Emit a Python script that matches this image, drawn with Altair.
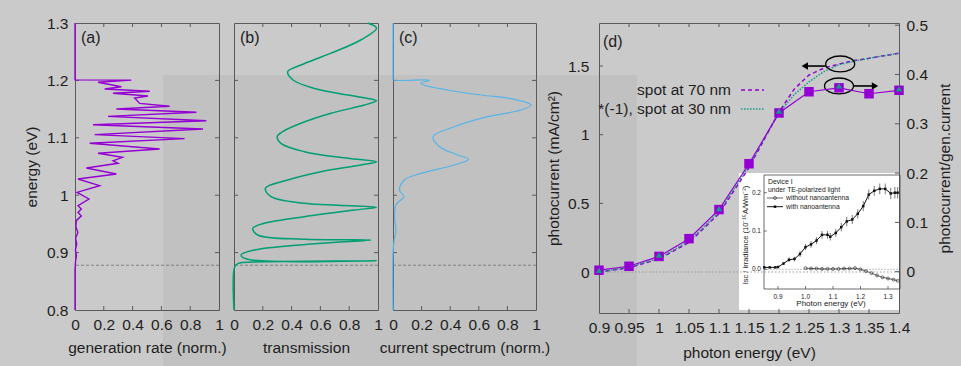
import altair as alt
import pandas as pd

# ---------------- data ----------------
energy_ticks = [0.8, 0.9, 1.0, 1.1, 1.2, 1.3]
norm_ticks = [0, 0.2, 0.4, 0.6, 0.8, 1]
gap_energy = [0.878]

# (a) generation rate (norm.) vs energy (eV)
gen_E = [0.800, 0.870, 0.885, 0.895, 0.905, 0.915, 0.925, 0.935, 0.945, 0.9556, 0.964, 0.970, 0.976,
         0.9817, 0.9934, 1.005, 1.0166, 1.0282, 1.037, 1.0474, 1.0556, 1.060, 1.066, 1.073, 1.0805,
         1.0904, 1.0985, 1.1055, 1.1153, 1.1228, 1.1298, 1.1374, 1.1444, 1.1502, 1.1549, 1.160,
         1.1693, 1.1728, 1.1775, 1.181, 1.185, 1.189, 1.1967, 1.2005, 1.2009, 1.300]
gen_v = [0.000, 0.000, 0.004, 0.010, 0.003, 0.012, 0.004, 0.020, 0.006, 0.009, 0.044, 0.021, 0.044,
         0.021, 0.097, 0.014, 0.171, 0.021, 0.287, 0.079, 0.299, 0.264, 0.329, 0.160, 0.588,
         0.102, 0.761, 0.137, 0.889, 0.125, 0.912, 0.229, 0.843, 0.287, 0.657, 0.449,
         0.414, 0.507, 0.264, 0.519, 0.206, 0.322, 0.160, 0.391, 0.000, 0.000]

# (b) transmission
tr_E = [0.800, 0.8754, 0.8813, 0.8836, 0.8859, 0.8883, 0.8958, 0.9045, 0.9162, 0.922, 0.9232, 0.9307,
        0.9423, 0.951, 0.9626, 0.9742, 0.9789, 0.9859, 0.9974, 1.012, 1.0265, 1.041, 1.0526, 1.0584,
        1.0643, 1.0758, 1.0904, 1.102, 1.1107, 1.1253, 1.1427, 1.157, 1.1646, 1.167, 1.1746, 1.186,
        1.2007, 1.2152, 1.2268, 1.247, 1.2704, 1.2908, 1.300]
tr_v = [0.000, 0.005, 0.030, 0.141, 0.990, 0.095, 0.049, 0.141, 0.604, 0.950, 0.488, 0.165,
        0.130, 0.210, 0.488, 0.835, 0.990, 0.488, 0.257, 0.218, 0.373, 0.604, 0.880, 0.990,
        0.790, 0.488, 0.326, 0.300, 0.338, 0.465, 0.674, 0.905, 0.990, 0.963, 0.790, 0.558,
        0.410, 0.373, 0.465, 0.670, 0.880, 0.990, 0.928]

# (c) current spectrum (norm.)
cs_E = [0.800, 0.899, 0.922, 0.939, 0.957, 0.983, 0.9974, 1.009, 1.0265, 1.038, 1.0526, 1.0625, 1.070,
        1.0845, 1.102, 1.1193, 1.1368, 1.1484, 1.157, 1.167, 1.1746, 1.1833, 1.1915, 1.195, 1.2003,
        1.2009, 1.2035, 1.250, 1.300]
cs_v = [0.000, 0.000, 0.008, 0.020, 0.012, 0.020, 0.075, 0.045, 0.080, 0.196, 0.429, 0.529, 0.454,
        0.326, 0.280, 0.429, 0.662, 0.895, 0.965, 0.848, 0.615, 0.382, 0.220, 0.196, 0.254,
        0.000, 0.000, 0.000, 0.000]

# (d) photocurrent vs photon energy
d_x_ticks = [0.9, 0.95, 1.0, 1.05, 1.1, 1.15, 1.2, 1.25, 1.3, 1.35, 1.4]
d_left_ticks = [0, 0.5, 1, 1.5]
d_right_ticks = [0, 0.1, 0.2, 0.3, 0.4, 0.5]

sq_E = [0.9, 0.95, 1.0, 1.05, 1.1, 1.15, 1.2, 1.25, 1.3, 1.35, 1.4]
sq_v = [0.003, 0.011, 0.031, 0.067, 0.126, 0.219, 0.322, 0.365, 0.373, 0.361, 0.368]
tri_E = [0.9, 1.0, 1.1, 1.2, 1.3, 1.4]
tri_v = [0.003, 0.034, 0.128, 0.326, 0.377, 0.371]

spot_E = [0.9, 0.95, 1.0, 1.05, 1.1, 1.15, 1.2, 1.225, 1.25, 1.275, 1.3, 1.325, 1.35, 1.375, 1.4]
spot70 = [0.0, 0.03, 0.095, 0.215, 0.425, 0.76, 1.165, 1.33, 1.435, 1.485, 1.515, 1.54, 1.556, 1.575, 1.593]
spot30 = [0.0, 0.035, 0.10, 0.225, 0.435, 0.775, 1.16, 1.29, 1.385, 1.46, 1.51, 1.535, 1.556, 1.575, 1.593]

ellipse_E = [1.302, 1.300]
ellipse_y = [1.515, 1.355]
arrowL = {"a": [1.278], "b": [1.243], "y": [1.50]}
arrowR = {"a": [1.325], "b": [1.360], "y": [1.355]}

# inset (Device I)
in_x_ticks = [0.9, 1.0, 1.1, 1.2, 1.3]
in_y_ticks = [0.0, 0.1, 0.2]
in_with_E = [0.85, 0.87, 0.89, 0.90, 0.92, 0.94, 0.96, 0.98, 1.00, 1.02, 1.04, 1.06, 1.08, 1.09, 1.11,
             1.13, 1.15, 1.17, 1.19, 1.21, 1.23, 1.25, 1.27, 1.29, 1.31, 1.325, 1.335]
in_with_v = [0.005, 0.005, 0.005, 0.006, 0.015, 0.025, 0.027, 0.040, 0.058, 0.065, 0.075, 0.090, 0.090,
             0.085, 0.095, 0.110, 0.125, 0.130, 0.145, 0.165, 0.195, 0.205, 0.210, 0.210, 0.198, 0.200, 0.200]
in_with_err = [0.002, 0.002, 0.002, 0.002, 0.004, 0.006, 0.006, 0.008, 0.008, 0.009, 0.009, 0.010, 0.010,
               0.010, 0.010, 0.011, 0.012, 0.012, 0.012, 0.013, 0.013, 0.013, 0.014, 0.014, 0.015, 0.015, 0.015]
in_wo_E = [1.00, 1.02, 1.04, 1.06, 1.08, 1.10, 1.12, 1.14, 1.16, 1.18, 1.20, 1.22, 1.24, 1.26, 1.28,
           1.30, 1.32, 1.335]
in_wo_v = [0.003, 0.002, 0.002, 0.001, 0.001, 0.001, 0.001, 0.002, 0.002, 0.003, 0.000, -0.005, -0.010,
           -0.016, -0.021, -0.024, -0.027, -0.030]
in_zero = {"a": [0.85], "b": [1.34], "z": [0.0]}

# ---------------- style ----------------
FONT = "Liberation Sans"
INK = "#1e1e1e"
BG = "#cacaca"
FRAME = "#5a5a5a"
PURPLE = "#9400d3"
GREEN = "#009e73"
TEAL = "#139a86"
BLUE = "#56b4e9"
FS = 15.5
TL = 4  # inward tick length


def line_df(E, v):
    return pd.DataFrame({"E": E, "v": v, "i": list(range(len(E)))})


def label(text, x, y, size=FS, align="left", angle=0, color=INK, baseline="middle"):
    return alt.Chart(pd.DataFrame({"t": [text]})).mark_text(
        font=FONT, fontSize=size, color=color, align=align, baseline=baseline, angle=angle
    ).encode(text="t:N", x=alt.value(x), y=alt.value(y))


def x_ticks(values, scale, axis, h):
    df = pd.DataFrame({"t": values})
    out = []
    for y0, y1 in ((h, h - TL), (0, TL)):
        out.append(alt.Chart(df).mark_rule(color=FRAME, strokeWidth=1).encode(
            x=alt.X("t:Q", scale=scale, axis=axis), y=alt.value(y0), y2=alt.value(y1)))
    return out


def y_ticks(values, scale, axis, w, sides=("left", "right")):
    df = pd.DataFrame({"t": values})
    out = []
    for s in sides:
        x0, x1 = (0, TL) if s == "left" else (w - TL, w)
        out.append(alt.Chart(df).mark_rule(color=FRAME, strokeWidth=1).encode(
            y=alt.Y("t:Q", scale=scale, axis=axis), x=alt.value(x0), x2=alt.value(x1)))
    return out


xs_norm = alt.Scale(domain=[0, 1], nice=False, zero=False)
ys_E = alt.Scale(domain=[0.8, 1.3], nice=False, zero=False)


def side_panel(E, v, color, xtitle, tag, show_y, interp, sw, width, shade=False):
    h = 287
    x_axis = alt.Axis(values=norm_ticks, format=".1~f", title=xtitle)
    y_axis = alt.Axis(values=energy_ticks, format=".1~f", title="energy (eV)", titlePadding=7) if show_y else None
    line = alt.Chart(line_df(E, v)).mark_line(color=color, strokeWidth=sw, interpolate=interp).encode(
        x=alt.X("v:Q", scale=xs_norm, axis=x_axis),
        y=alt.Y("E:Q", scale=ys_E, axis=y_axis),
        order=alt.Order("i:Q"),
    )
    gap = alt.Chart(pd.DataFrame({"E": gap_energy})).mark_rule(
        color="#707070", strokeDash=[3, 2], strokeWidth=0.8
    ).encode(y=alt.Y("E:Q", scale=ys_E, axis=y_axis))
    layers = (x_ticks(norm_ticks[1:-1], xs_norm, x_axis, h)
              + y_ticks(energy_ticks[1:-1], ys_E, y_axis, width)
              + [gap, line, label(tag, 6, 15, size=16)])
    if shade:
        sh = alt.Chart(pd.DataFrame({"k": [0]})).mark_rect(color="#000000", opacity=0.045).encode(
            x=alt.value(88), x2=alt.value(562), y=alt.value(52), y2=alt.value(343)
        )
        layers = [sh] + layers
    return alt.layer(*layers).properties(width=width, height=h)


pa = side_panel(gen_E, gen_v, PURPLE, "generation rate (norm.)", "(a)", True, "linear", 1.4, 144, shade=True)
pb = side_panel(tr_E, tr_v, GREEN, "transmission", "(b)", False, "catmull-rom", 1.5, 144)
pc = side_panel(cs_E, cs_v, BLUE, "current spectrum (norm.)", "(c)", False, "catmull-rom", 1.2, 143)

# invisible spacer between (c) and (d)
spacer = alt.Chart(pd.DataFrame({"k": [0]})).mark_point(opacity=0).encode(
    x=alt.value(0), y=alt.value(0)
).properties(width=33, height=287, view=alt.ViewBackground(strokeOpacity=0))

# ---------------- panel (d) ----------------
DW, DH = 300, 290
xE = alt.Scale(domain=[0.9, 1.4], nice=False, zero=False)
yL = alt.Scale(domain=[-0.2986, 1.8135], nice=False, zero=False)
yR = alt.Scale(domain=[-0.0838, 0.5045], nice=False, zero=False)
x_axis_d = alt.Axis(values=d_x_ticks, format=".2~f", title="photon energy (eV)", titlePadding=10)
yL_axis = alt.Axis(values=d_left_ticks, format=".1~f", title="photocurrent (mA/cm²)",
                   orient="left", labelPadding=10, titlePadding=6)
yR_axis = alt.Axis(values=d_right_ticks, format=".1~f", title="photocurrent/gen.current",
                   orient="right", titleAngle=270, titleBaseline="top", titlePadding=10)

# inset scales (pixel ranges inside panel d)
inX = alt.Scale(domain=[0.9, 1.3], range=[179, 289], nice=False, zero=False)
inY = alt.Scale(domain=[0.0, 0.2], range=[246.3, 169.7], nice=False, zero=False)

inset_bg = alt.Chart(pd.DataFrame({"k": [0]})).mark_rect(fill="#ffffff").encode(
    x=alt.value(140), x2=alt.value(300), y=alt.value(150), y2=alt.value(287))
inset_frame = alt.Chart(pd.DataFrame({"k": [0]})).mark_rect(
    fillOpacity=0, stroke="#444444", strokeWidth=0.8).encode(
    x=alt.value(165), x2=alt.value(301), y=alt.value(152), y2=alt.value(266))
inset_zero = alt.Chart(pd.DataFrame(in_zero)).mark_rule(color="#888888", strokeDash=[1.5, 1.5], strokeWidth=0.7).encode(
    x=alt.X("a:Q", scale=inX, axis=None), x2="b:Q", y=alt.Y("z:Q", scale=inY, axis=None))
inset_xt = alt.Chart(pd.DataFrame({"t": in_x_ticks})).mark_rule(color="#444444", strokeWidth=0.7).encode(
    x=alt.X("t:Q", scale=inX, axis=None), y=alt.value(266), y2=alt.value(263))
inset_yt = alt.Chart(pd.DataFrame({"t": in_y_ticks})).mark_rule(color="#444444", strokeWidth=0.7).encode(
    y=alt.Y("t:Q", scale=inY, axis=None), x=alt.value(165), x2=alt.value(168))
wdf = pd.DataFrame({"E": in_with_E, "v": in_with_v, "e": in_with_err})
inset_err = alt.Chart(wdf).transform_calculate(lo="datum.v - datum.e", hi="datum.v + datum.e").mark_rule(
    color="#222222", strokeWidth=0.6).encode(
    x=alt.X("E:Q", scale=inX, axis=None), y=alt.Y("lo:Q", scale=inY, axis=None), y2="hi:Q")
inset_with_line = alt.Chart(wdf).mark_line(color="#111111", strokeWidth=1).encode(
    x=alt.X("E:Q", scale=inX, axis=None), y=alt.Y("v:Q", scale=inY, axis=None))
inset_with_pts = alt.Chart(wdf).mark_point(shape="square", filled=True, size=6, color="#111111", opacity=1).encode(
    x=alt.X("E:Q", scale=inX, axis=None), y=alt.Y("v:Q", scale=inY, axis=None))
wodf = pd.DataFrame({"E": in_wo_E, "v": in_wo_v})
inset_wo_line = alt.Chart(wodf).mark_line(color="#222222", strokeWidth=0.7).encode(
    x=alt.X("E:Q", scale=inX, axis=None), y=alt.Y("v:Q", scale=inY, axis=None))
inset_wo_pts = alt.Chart(wodf).mark_point(shape="circle", filled=False, size=9, color="#222222",
                                          strokeWidth=0.6, opacity=1).encode(
    x=alt.X("E:Q", scale=inX, axis=None), y=alt.Y("v:Q", scale=inY, axis=None))
inset_xlab = alt.Chart(pd.DataFrame({"t": in_x_ticks})).mark_text(
    font=FONT, fontSize=6.5, color="#222222", baseline="middle").encode(
    x=alt.X("t:Q", scale=inX, axis=None), y=alt.value(274), text=alt.Text("t:Q", format=".1f"))
inset_ylab = alt.Chart(pd.DataFrame({"t": in_y_ticks})).mark_text(
    font=FONT, fontSize=6.5, color="#222222", align="right", baseline="middle").encode(
    y=alt.Y("t:Q", scale=inY, axis=None), x=alt.value(162), text=alt.Text("t:Q", format=".1f"))
leg_wo_line = alt.Chart(pd.DataFrame({"k": [0]})).mark_rule(color="#222222", strokeWidth=0.7).encode(
    x=alt.value(168), x2=alt.value(184), y=alt.value(175))
leg_wo_pt = alt.Chart(pd.DataFrame({"k": [0]})).mark_point(
    shape="circle", filled=False, size=9, color="#222222", strokeWidth=0.6, opacity=1).encode(
    x=alt.value(176), y=alt.value(175))
leg_w_line = alt.Chart(pd.DataFrame({"k": [0]})).mark_rule(color="#111111", strokeWidth=1).encode(
    x=alt.value(168), x2=alt.value(184), y=alt.value(183.7))
leg_w_pt = alt.Chart(pd.DataFrame({"k": [0]})).mark_point(
    shape="square", filled=True, size=6, color="#111111", opacity=1).encode(
    x=alt.value(176), y=alt.value(183.7))

inset = alt.layer(
    inset_bg, inset_frame, inset_zero, inset_xt, inset_yt, inset_err, inset_with_line, inset_with_pts,
    inset_wo_line, inset_wo_pts, inset_xlab, inset_ylab,
    label("Photon energy (eV)", 232, 281, size=8, align="center", color="#222222"),
    label("Isc / irradiance (10⁻¹⁵A/Wm⁻²)", 147, 212, size=7.5, align="center", angle=270, color="#222222"),
    label("Device I", 169, 158.7, size=6.8, color="#222222"),
    label("under TE-polarized light", 169, 167, size=6.8, color="#222222"),
    label("without nanoantenna", 187, 175, size=6.8, color="#222222"),
    label("with nanoantenna", 187, 183.7, size=6.8, color="#222222"),
    leg_wo_line, leg_wo_pt, leg_w_line, leg_w_pt,
)

# left-axis layer: dashed spectra, zero line, legend, annotations
zero_line = alt.Chart(pd.DataFrame({"z": [0.0]})).mark_rule(
    color="#9a9a9a", strokeDash=[1.5, 2], strokeWidth=1).encode(
    y=alt.Y("z:Q", scale=yL, axis=yL_axis))
sdf = pd.DataFrame({"E": spot_E, "s70": spot70, "s30": spot30})
s70 = alt.Chart(sdf).mark_line(color=PURPLE, strokeDash=[4, 3], strokeWidth=1.5).encode(
    x=alt.X("E:Q", scale=xE, axis=x_axis_d), y=alt.Y("s70:Q", scale=yL, axis=yL_axis))
s30 = alt.Chart(sdf).mark_line(color=TEAL, strokeDash=[1.5, 1.5], strokeWidth=1.5).encode(
    x=alt.X("E:Q", scale=xE, axis=x_axis_d), y=alt.Y("s30:Q", scale=yL, axis=yL_axis))
ell = alt.Chart(pd.DataFrame({"E": ellipse_E, "y": ellipse_y})).mark_point(
    shape="M-1,0A1,0.55,0,1,1,1,0A1,0.55,0,1,1,-1,0Z", size=841, filled=False,
    color="#000000", strokeWidth=1.3, opacity=1).encode(
    x=alt.X("E:Q", scale=xE, axis=x_axis_d), y=alt.Y("y:Q", scale=yL, axis=yL_axis))
arrL = alt.Chart(pd.DataFrame(arrowL)).mark_rule(color="#000000", strokeWidth=1.6).encode(
    x=alt.X("a:Q", scale=xE, axis=x_axis_d), x2="b:Q", y=alt.Y("y:Q", scale=yL, axis=yL_axis))
arrLh = alt.Chart(pd.DataFrame(arrowL)).mark_point(shape="triangle-left", filled=True, size=55,
                                                   color="#000000", opacity=1).encode(
    x=alt.X("b:Q", scale=xE, axis=x_axis_d), y=alt.Y("y:Q", scale=yL, axis=yL_axis))
arrR = alt.Chart(pd.DataFrame(arrowR)).mark_rule(color="#000000", strokeWidth=1.6).encode(
    x=alt.X("a:Q", scale=xE, axis=x_axis_d), x2="b:Q", y=alt.Y("y:Q", scale=yL, axis=yL_axis))
arrRh = alt.Chart(pd.DataFrame(arrowR)).mark_point(shape="triangle-right", filled=True, size=55,
                                                   color="#000000", opacity=1).encode(
    x=alt.X("b:Q", scale=xE, axis=x_axis_d), y=alt.Y("y:Q", scale=yL, axis=yL_axis))
leg70 = alt.Chart(pd.DataFrame({"k": [0]})).mark_rule(color=PURPLE, strokeDash=[4, 3], strokeWidth=1.5).encode(
    x=alt.value(142), x2=alt.value(165), y=alt.value(67))
leg30 = alt.Chart(pd.DataFrame({"k": [0]})).mark_rule(color=TEAL, strokeDash=[1.5, 1.5], strokeWidth=1.5).encode(
    x=alt.value(142), x2=alt.value(165), y=alt.value(86))

left_layer = alt.layer(
    *x_ticks(d_x_ticks[1:-1], xE, x_axis_d, DH),
    *y_ticks(d_left_ticks, yL, yL_axis, DW, sides=("left",)),
    zero_line, s70, s30, ell, arrL, arrLh, arrR, arrRh, leg70, leg30,
    label("spot at 70 nm", 132, 67, align="right"),
    label("*(-1), spot at 30 nm", 132, 86, align="right"),
    label("(d)", 4, 19, size=16),
)

qdf = pd.DataFrame({"E": sq_E, "v": sq_v})
tdf = pd.DataFrame({"E": tri_E, "v": tri_v})
sq_line = alt.Chart(qdf).mark_line(color=PURPLE, strokeWidth=1.2).encode(
    x=alt.X("E:Q", scale=xE, axis=None), y=alt.Y("v:Q", scale=yR, axis=yR_axis))
sq_pts = alt.Chart(qdf).mark_point(shape="square", filled=True, size=90, color=PURPLE, opacity=1).encode(
    x=alt.X("E:Q", scale=xE, axis=None), y=alt.Y("v:Q", scale=yR, axis=yR_axis))
tri_pts = alt.Chart(tdf).mark_point(shape="triangle-up", filled=True, size=40, color=TEAL, opacity=1).encode(
    x=alt.X("E:Q", scale=xE, axis=None), y=alt.Y("v:Q", scale=yR, axis=yR_axis))
right_layer = alt.layer(*y_ticks(d_right_ticks, yR, yR_axis, DW, sides=("right",)),
                        sq_line, sq_pts, tri_pts)

panel_d = alt.layer(inset, left_layer, right_layer).resolve_scale(
    x="independent", y="independent").properties(width=DW, height=DH)

chart = alt.hconcat(pa, pb, pc, spacer, panel_d, spacing=15, bounds="flush",
                    padding={"left": 23, "top": 15, "right": 7, "bottom": 0},
                    background=BG).configure_view(
    stroke=FRAME, strokeWidth=1
).configure_axis(
    labelFont=FONT, titleFont=FONT, labelFontSize=FS, titleFontSize=FS, titleFontWeight="normal",
    labelColor=INK, titleColor=INK, domain=False, ticks=False, tickSize=0, grid=False,
    labelPadding=7, titlePadding=8, labelFlush=False, labelOverlap=False
)

chart.save("out.html", embed_options={"renderer": "svg", "actions": False})
